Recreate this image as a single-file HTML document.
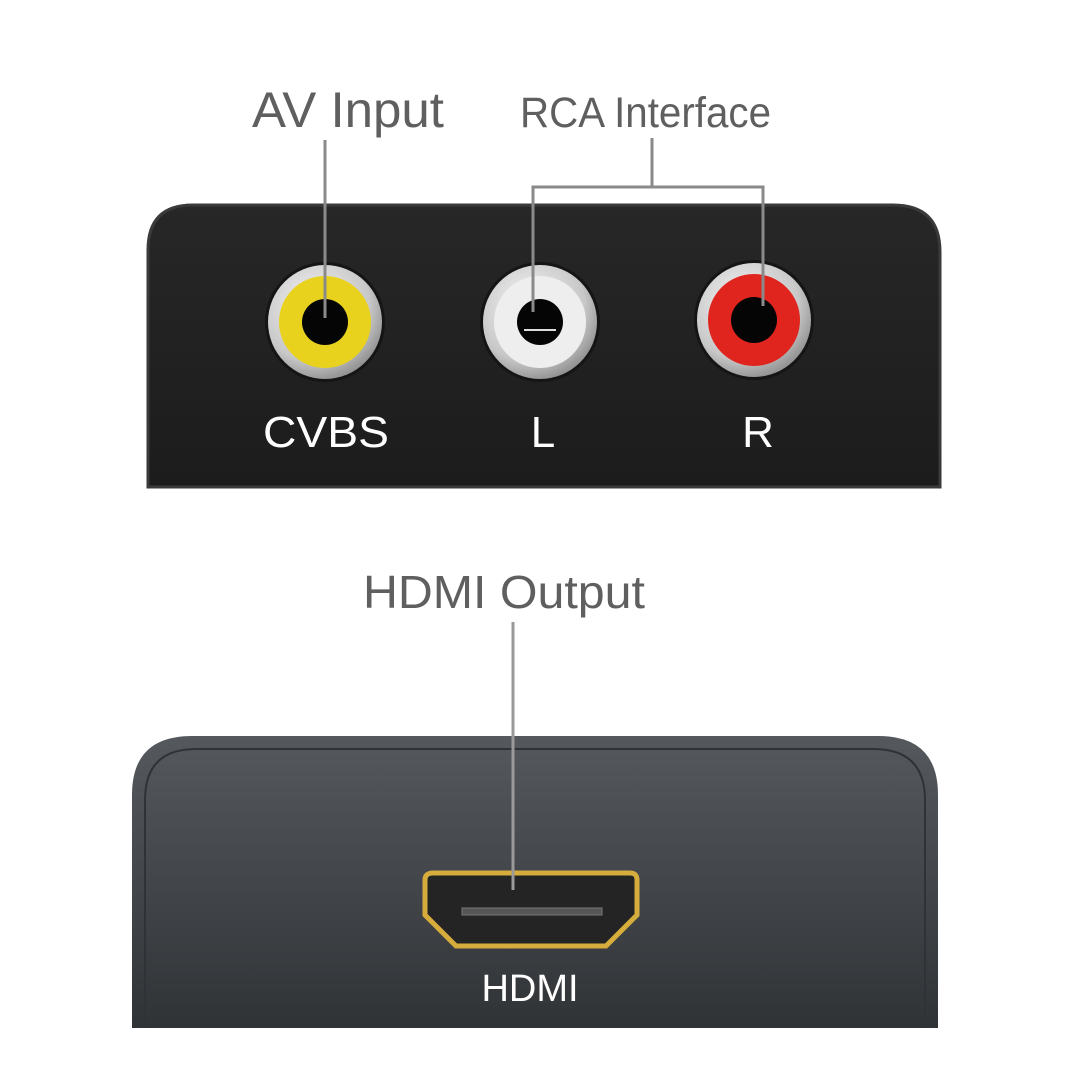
<!DOCTYPE html>
<html><head><style>html,body{margin:0;padding:0;background:#fff}svg{display:block}</style></head>
<body>
<svg width="1080" height="1080" viewBox="0 0 1080 1080" xmlns="http://www.w3.org/2000/svg">
<defs>
<linearGradient id="top" x1="0" y1="0" x2="0" y2="1"><stop offset="0" stop-color="#272727"/><stop offset="1" stop-color="#1c1c1c"/></linearGradient>
<linearGradient id="bot" x1="0" y1="0" x2="0" y2="1"><stop offset="0" stop-color="#55595e"/><stop offset="1" stop-color="#303336"/></linearGradient>
<radialGradient id="metal" cx="0.4" cy="0.35" r="0.7"><stop offset="0" stop-color="#f4f4f4"/><stop offset="0.7" stop-color="#c8c8c8"/><stop offset="1" stop-color="#8a8a8a"/></radialGradient>
</defs>
<rect width="1080" height="1080" fill="#fff"/>
<path d="M148 487 V250 Q148 205 193 205 H893 Q940 205 940 252 V487 Z" fill="url(#top)" stroke="#3a3a3a" stroke-width="3"/>
<g>
<circle cx="325" cy="322" r="60" fill="#151515"/>
<circle cx="325" cy="322" r="57" fill="url(#metal)"/>
<circle cx="325" cy="322" r="46" fill="#e8d21e"/>
<circle cx="325" cy="322" r="23" fill="#050505"/>
</g>
<g>
<circle cx="540" cy="322" r="60" fill="#151515"/>
<circle cx="540" cy="322" r="57" fill="url(#metal)"/>
<circle cx="540" cy="322" r="46" fill="#eeeeee"/>
<circle cx="540" cy="322" r="23" fill="#050505"/>
<line x1="524" y1="330" x2="556" y2="330" stroke="#ddd" stroke-width="2"/>
</g>
<g>
<circle cx="754" cy="320" r="60" fill="#151515"/>
<circle cx="754" cy="320" r="57" fill="url(#metal)"/>
<circle cx="754" cy="320" r="46" fill="#e0241e"/>
<circle cx="754" cy="320" r="23" fill="#050505"/>
</g>
<g font-family="Liberation Sans, sans-serif" fill="#fff" font-size="44" text-anchor="middle">
<text x="326" y="447" textLength="126" lengthAdjust="spacingAndGlyphs">CVBS</text>
<text x="543" y="447">L</text>
<text x="758" y="447">R</text>
</g>
<g font-family="Liberation Sans, sans-serif" fill="#5f5f5f">
<text x="252" y="127" font-size="50" textLength="192" lengthAdjust="spacingAndGlyphs">AV Input</text>
<text x="520" y="127" font-size="43" textLength="251" lengthAdjust="spacingAndGlyphs">RCA Interface</text>
<text x="363" y="608" font-size="46" textLength="282" lengthAdjust="spacingAndGlyphs">HDMI Output</text>
</g>
<g stroke="#8a8a8a" stroke-width="3" fill="none">
<line x1="325" y1="140" x2="325" y2="318"/>
<line x1="652" y1="138" x2="652" y2="187"/>
<polyline points="533,312 533,187 763,187 763,306"/>
</g>
<path d="M132 1028 V795 Q132 736 192 736 H878 Q938 736 938 795 V1028 Z" fill="url(#bot)"/>
<path d="M145 1026 V800 Q145 749 196 749 H873 Q925 749 925 800 V1026" fill="none" stroke="#2f3236" stroke-width="2"/>
<path d="M433 873 H630 Q637 873 637 880 V915 L606 946 H456 L425 915 V880 Q425 873 433 873 Z" fill="#242424" stroke="#d6ac3c" stroke-width="5"/>
<rect x="462" y="908" width="140" height="7" fill="#555" stroke="#777" stroke-width="1"/>
<line x1="513" y1="622" x2="513" y2="890" stroke="#9a9a9a" stroke-width="3"/>
<text x="530" y="1001" font-family="Liberation Sans, sans-serif" font-size="38" fill="#fff" text-anchor="middle">HDMI</text>
</svg>
</body></html>
